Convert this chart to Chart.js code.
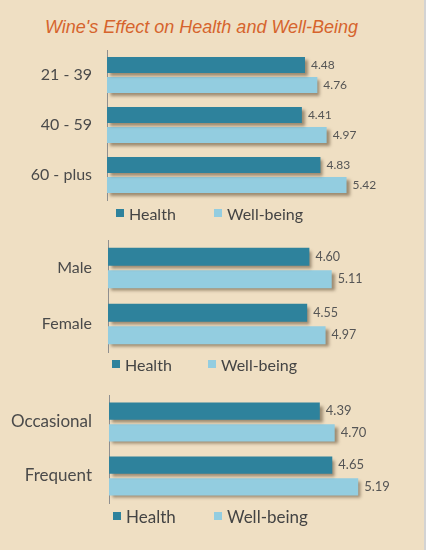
<!DOCTYPE html>
<html>
<head>
<meta charset="utf-8">
<title>Wine's Effect on Health and Well-Being</title>
<script src="https://cdn.jsdelivr.net/npm/chart.js@4.4.1/dist/chart.umd.min.js"></script>
<style>
    html, body { margin: 0; padding: 0; }
    body { width: 426px; height: 550px; background: #d3d3d3; overflow: hidden; }
    #page { position: relative; width: 424px; height: 550px; background: #efdfc3; }
    #title {
        position: absolute; left: 45px; top: 17px; line-height: 20px;
        font: italic 18px "Liberation Sans", Arial, sans-serif;
        color: #d6642d; white-space: nowrap;
    }
    canvas { position: absolute; left: 0; }
    .legend-item {
        position: absolute; height: 20px; display: flex; align-items: center;
        font-family: Lato, sans-serif; color: #444; white-space: nowrap;
    }
    .legend-item .box { width: 8px; height: 8px; margin-right: 5px; }
</style>
</head>
<body>
<div id="page">
    <div id="title">Wine's Effect on Health and Well-Being</div>
    <canvas id="ageChart"></canvas>
    <canvas id="genderChart"></canvas>
    <canvas id="drinkerChart"></canvas>
</div>
<script>
const seriesNames = ['Health', 'Well-being'];
const seriesColors = ['#2e829c', '#93cde0'];

const ageLabels = ['21 - 39', '40 - 59', '60 - plus'];
const ageHealth = [4.48, 4.41, 4.83];
const ageWellbeing = [4.76, 4.97, 5.42];

const genderLabels = ['Male', 'Female'];
const genderHealth = [4.60, 4.55];
const genderWellbeing = [5.11, 4.97];

const drinkerLabels = ['Occasional', 'Frequent'];
const drinkerHealth = [4.39, 4.65];
const drinkerWellbeing = [4.70, 5.19];

// drop shadow under the bars + value labels at the bar ends
const barExtras = {
    id: 'barExtras',
    beforeDatasetsDraw(chart) {
        const ctx = chart.ctx;
        ctx.save();
        ctx.shadowColor = 'rgba(90, 70, 45, 0.55)';
        ctx.shadowOffsetX = 3;
        ctx.shadowOffsetY = 3;
        ctx.shadowBlur = 3;
    },
    afterDatasetsDraw(chart, args, opts) {
        const ctx = chart.ctx;
        ctx.restore();
        ctx.save();
        ctx.font = opts.font;
        ctx.fillStyle = '#555';
        ctx.textBaseline = 'middle';
        chart.data.datasets.forEach((ds, i) => {
            chart.getDatasetMeta(i).data.forEach((bar, j) => {
                ctx.fillText(ds.data[j].toFixed(2), bar.x + 6, bar.y);
            });
        });
        ctx.restore();
    }
};

const makePanel = (id, labels, health, wellbeing, p) => {
    const canvas = document.getElementById(id);
    canvas.width = 424;
    canvas.height = p.bottom - p.top + 12;
    canvas.style.top = (p.top - 6) + 'px';

    new Chart(canvas.getContext('2d'), {
        type: 'bar',
        data: {
            labels: labels,
            datasets: [health, wellbeing].map((values, i) => ({
                label: seriesNames[i],
                data: values,
                backgroundColor: seriesColors[i],
                borderWidth: 0,
                categoryPercentage: 0.8,
                barPercentage: 0.8,
                clip: false
            }))
        },
        options: {
            indexAxis: 'y',
            responsive: false,
            animation: false,
            layout: { padding: { top: 6, bottom: 6, left: 0, right: 24 } },
            plugins: {
                legend: { display: false },
                tooltip: { enabled: false },
                barExtras: { font: p.valueSize + 'px Lato' }
            },
            scales: {
                x: { display: false, min: 0, max: p.xMax },
                y: {
                    border: { display: true, color: '#8f8f8f', width: 1 },
                    grid: { display: false, drawTicks: false },
                    ticks: {
                        color: '#4a4a4a',
                        font: { family: 'Lato', size: p.fontSize },
                        padding: p.axisX - 92
                    },
                    afterFit: (scale) => {
                        scale.width = p.axisX;
                        // labels sit in the middle of each band, no extra room needed
                        scale.paddingTop = 0;
                        scale.paddingBottom = 0;
                    }
                }
            }
        },
        plugins: [barExtras]
    });

    // legend under each panel
    seriesNames.forEach((name, i) => {
        const item = document.createElement('div');
        item.className = 'legend-item';
        item.style.left = p.legendX[i] + 'px';
        item.style.top = (p.legendY - 10) + 'px';
        item.style.fontSize = p.fontSize + 'px';
        const box = document.createElement('span');
        box.className = 'box';
        box.style.background = seriesColors[i];
        item.appendChild(box);
        item.appendChild(document.createTextNode(name));
        document.getElementById('page').appendChild(item);
    });
};

makePanel('ageChart', ageLabels, ageHealth, ageWellbeing, {
    top: 50, bottom: 200, axisX: 107, xMax: 6.63,
    fontSize: 16, valueSize: 12, legendX: [116, 214], legendY: 213
});
makePanel('genderChart', genderLabels, genderHealth, genderWellbeing, {
    top: 240, bottom: 352, axisX: 108, xMax: 6.67,
    fontSize: 16, valueSize: 12.5, legendX: [112, 208], legendY: 364
});
makePanel('drinkerChart', drinkerLabels, drinkerHealth, drinkerWellbeing, {
    top: 395, bottom: 503, axisX: 109, xMax: 6.06,
    fontSize: 17, valueSize: 13, legendX: [113, 214], legendY: 516
});
</script>
</body>
</html>
